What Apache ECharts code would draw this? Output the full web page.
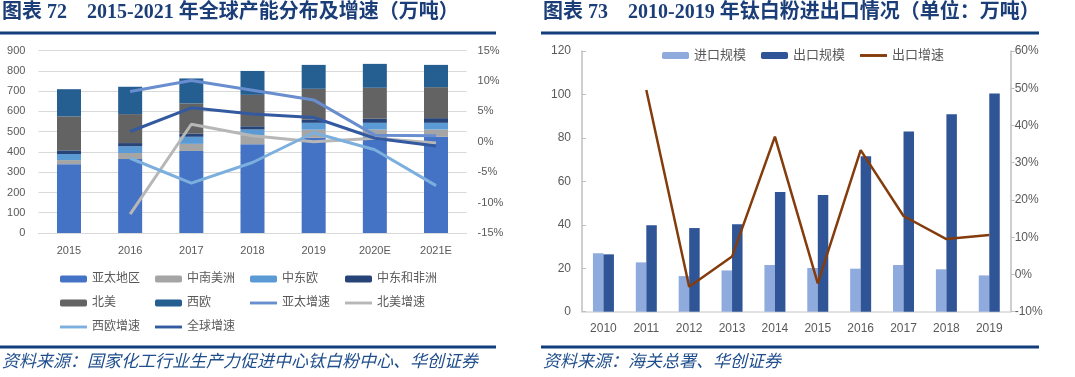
<!DOCTYPE html>
<html>
<head>
<meta charset="utf-8">
<script src="https://cdn.jsdelivr.net/npm/echarts@6/dist/echarts.min.js"></script>
<style>
  html, body { margin: 0; padding: 0; background: #fff; }
  #chart { width: 1075px; height: 377px; }
</style>
</head>
<body>
<div id="chart"></div>
<script>
// Figure 72: global capacity by region (10k t) and growth (%)
const years72 = ['2015', '2016', '2017', '2018', '2019', '2020E', '2021E'];
const asiaPacific = [340, 365, 405, 438, 470, 475, 475];
const latinAmerica = [20, 30, 35, 45, 40, 36, 36];
const centralEastEurope = [30, 33, 35, 28, 34, 33, 33];
const middleEastAfrica = [18, 16, 15, 16, 17, 20, 23];
const northAmerica = [168, 143, 150, 155, 151, 153, 153];
const westEurope = [134, 135, 123, 118, 118, 118, 110];
const asiaPacificGrowth = [null, 8.3, 10.1, 8.5, 6.9, 1.1, 1.0];
const northAmericaGrowth = [null, -11.9, 2.9, 1.0, 0.0, 0.6, -0.2];
const westEuropeGrowth = [null, -2.7, -6.8, -3.4, 1.5, -1.3, -7.2];
const globalGrowth = [null, 1.7, 5.6, 4.6, 4.0, 0.6, -0.7];

// Figure 73: TiO2 imports / exports (10k t) and export growth (%)
const years73 = ['2010', '2011', '2012', '2013', '2014', '2015', '2016', '2017', '2018', '2019'];
const importVolume = [26.9, 22.7, 16.4, 19.0, 21.5, 20.1, 19.8, 21.5, 19.5, 16.7];
const exportVolume = [26.4, 39.8, 38.5, 40.2, 55.1, 53.7, 71.5, 82.9, 90.9, 100.4];
const exportGrowth = [null, 49.5, -3.3, 4.8, 37.0, -2.4, 33.4, 15.7, 9.5, 10.6];

const chart = echarts.init(document.getElementById('chart'));

const labelFont = "'Liberation Sans', 'Noto Sans CJK SC', sans-serif";
const titleFont = "'Liberation Serif', 'Noto Sans CJK SC', serif";
const sourceFont = "italic 17px 'Noto Sans CJK SC', sans-serif";
const axisText = '#595959';
const gridGray = '#d9d9d9';
const navy = '#123e7c';
// thin bar used as legend icon for line series (no marker dot)
const lineIcon = 'path://M0,0 L28,0 L28,3 L0,3 Z';

const legendCommon = {
  padding: 0,
  itemWidth: 27,
  itemHeight: 7,
  itemGap: 5,
  textStyle: { color: axisText, fontSize: 12, fontFamily: labelFont, width: 58, lineHeight: 14 }
};

const stackBar = (name, data, color) => ({
  name, type: 'bar', stack: 'cap', data,
  xAxisIndex: 0, yAxisIndex: 0,
  barWidth: 24,
  itemStyle: { color },
  animation: false
});

const growthLine = (name, data, color) => ({
  name, type: 'line', data,
  xAxisIndex: 0, yAxisIndex: 1,
  symbol: 'none',
  lineStyle: { width: 3, color },
  itemStyle: { color },
  animation: false
});

const option = {
  backgroundColor: '#fff',
  graphic: [
    { type: 'text', left: 2, top: 3, style: { text: '图表 72    2015-2021 年全球产能分布及增速（万吨）', font: `bold 20px ${titleFont}`, fill: '#1b3d78' } },
    { type: 'text', left: 543, top: 3, style: { text: '图表 73    2010-2019 年钛白粉进出口情况（单位：万吨）', font: `bold 20px ${titleFont}`, fill: '#1b3d78' } },
    { type: 'rect', shape: { x: 0, y: 31.5, width: 496, height: 3 }, style: { fill: navy } },
    { type: 'rect', shape: { x: 541, y: 31.5, width: 498, height: 3 }, style: { fill: navy } },
    { type: 'rect', shape: { x: 0, y: 345.5, width: 496, height: 3 }, style: { fill: navy } },
    { type: 'rect', shape: { x: 541, y: 345.5, width: 498, height: 3 }, style: { fill: navy } },
    { type: 'text', left: 2, top: 352, style: { text: '资料来源：国家化工行业生产力促进中心钛白粉中心、华创证券', font: sourceFont, fill: '#1f4e8c' } },
    { type: 'text', left: 543, top: 352, style: { text: '资料来源：海关总署、华创证券', font: sourceFont, fill: '#1f4e8c' } }
  ],
  legend: [
    { ...legendCommon, left: 60, top: 272, data: ['亚太地区', '中南美洲', '中东欧', '中东和非洲'] },
    {
      ...legendCommon, left: 60, top: 296,
      data: ['北美', '西欧', { name: '亚太增速', icon: lineIcon }, { name: '北美增速', icon: lineIcon }]
    },
    {
      ...legendCommon, left: 60, top: 320,
      data: [{ name: '西欧增速', icon: lineIcon }, { name: '全球增速', icon: lineIcon }]
    },
    {
      padding: 0, left: 662, top: 49, itemWidth: 27, itemHeight: 7, itemGap: 15,
      textStyle: { color: axisText, fontSize: 13, fontFamily: labelFont },
      data: ['进口规模', '出口规模', { name: '出口增速', icon: lineIcon }]
    }
  ],
  grid: [
    { left: 38.4, right: 608.4, top: 50.7, bottom: 144 },
    { left: 582, right: 64.3, top: 51, bottom: 65.3 }
  ],
  xAxis: [
    {
      gridIndex: 0, type: 'category', data: years72,
      axisLine: { lineStyle: { color: gridGray } },
      axisTick: { show: false },
      axisLabel: { color: axisText, fontSize: 11, fontFamily: labelFont, margin: 12 }
    },
    {
      gridIndex: 1, type: 'category', data: years73,
      axisLine: { lineStyle: { color: gridGray, width: 1.5 } },
      axisTick: { show: false },
      axisLabel: { color: axisText, fontSize: 12, fontFamily: labelFont, margin: 11 }
    }
  ],
  yAxis: [
    {
      gridIndex: 0, type: 'value', min: 0, max: 900, interval: 100,
      axisLine: { show: false }, axisTick: { show: false },
      splitLine: { lineStyle: { color: gridGray } },
      axisLabel: { color: axisText, fontSize: 11, fontFamily: labelFont, margin: 13 }
    },
    {
      gridIndex: 0, type: 'value', min: -15, max: 15, interval: 5, position: 'right',
      axisLine: { show: false }, axisTick: { show: false }, splitLine: { show: false },
      axisLabel: { color: axisText, fontSize: 11, fontFamily: labelFont, margin: 11, formatter: '{value}%' }
    },
    {
      gridIndex: 1, type: 'value', min: 0, max: 120, interval: 20,
      axisLine: { show: true, lineStyle: { color: '#bfbfbf', width: 1.5 } },
      axisTick: { show: true, inside: true, length: 4, lineStyle: { color: '#bfbfbf' } },
      splitLine: { show: false },
      axisLabel: { color: axisText, fontSize: 12, fontFamily: labelFont, margin: 11 }
    },
    {
      gridIndex: 1, type: 'value', min: -10, max: 60, interval: 10, position: 'right',
      axisLine: { show: true, lineStyle: { color: '#bfbfbf', width: 1.5 } },
      axisTick: { show: true, length: 4, lineStyle: { color: '#bfbfbf' } },
      splitLine: { show: false },
      axisLabel: { color: axisText, fontSize: 12, fontFamily: labelFont, margin: 4, formatter: '{value}%' }
    }
  ],
  series: [
    stackBar('亚太地区', asiaPacific, '#4472c4'),
    stackBar('中南美洲', latinAmerica, '#a5a5a5'),
    stackBar('中东欧', centralEastEurope, '#5b9bd5'),
    stackBar('中东和非洲', middleEastAfrica, '#264478'),
    stackBar('北美', northAmerica, '#636363'),
    stackBar('西欧', westEurope, '#255e91'),
    growthLine('亚太增速', asiaPacificGrowth, '#698ed0'),
    growthLine('北美增速', northAmericaGrowth, '#b7b7b7'),
    growthLine('西欧增速', westEuropeGrowth, '#7cafdd'),
    growthLine('全球增速', globalGrowth, '#335aa1'),
    {
      name: '进口规模', type: 'bar', data: importVolume,
      xAxisIndex: 1, yAxisIndex: 2, barWidth: 10.5, barGap: '0%',
      itemStyle: { color: '#8faadc' }, animation: false
    },
    {
      name: '出口规模', type: 'bar', data: exportVolume,
      xAxisIndex: 1, yAxisIndex: 2, barWidth: 10.5, barGap: '0%',
      itemStyle: { color: '#2f5597' }, animation: false
    },
    {
      name: '出口增速', type: 'line', data: exportGrowth,
      xAxisIndex: 1, yAxisIndex: 3, symbol: 'none',
      lineStyle: { width: 2.5, color: '#843c0c' },
      itemStyle: { color: '#843c0c' }, animation: false
    }
  ]
};

chart.setOption(option);
</script>
</body>
</html>
